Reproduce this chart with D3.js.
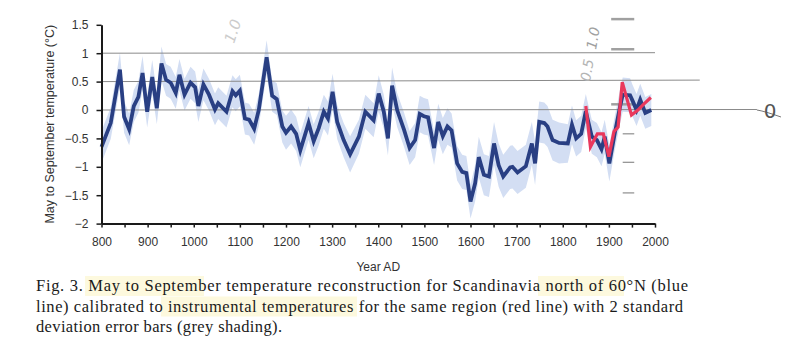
<!DOCTYPE html>
<html>
<head>
<meta charset="utf-8">
<script src="https://cdn.jsdelivr.net/npm/d3@7"></script>
<style>
  body { margin: 0; background: #fff; }
  svg { display: block; }
</style>
</head>
<body>
<svg id="chart" width="800" height="342"></svg>
<script>
// reconstruction (blue)
var blueYears = [800, 820, 840, 849, 860, 870, 880, 889, 899, 910, 920, 930, 940, 950, 961, 969, 980, 993,
  1003, 1010, 1021, 1033, 1046, 1053, 1071, 1084, 1091, 1100, 1111, 1120, 1131, 1141, 1158, 1170, 1180, 1192,
  1200, 1211, 1222, 1231, 1249, 1260, 1271, 1282, 1291, 1301, 1311, 1325, 1339, 1358, 1372, 1390,
  1401, 1412, 1421, 1430, 1441, 1456, 1468, 1480, 1490, 1499, 1508, 1521, 1530, 1540, 1550, 1559, 1571, 1582, 1591,
  1600, 1610, 1618, 1629, 1640, 1651, 1661, 1671, 1686, 1691, 1702, 1720, 1733, 1740, 1749, 1760, 1767, 1778, 1792,
  1811, 1820, 1829, 1840, 1850, 1863, 1874, 1884, 1891, 1901, 1913, 1924, 1930, 1946, 1951, 1960, 1968, 1979, 1992];
var blueTemps = [-0.65, -0.23, 0.71, -0.12, -0.34, 0.07, 0.23, 0.65, -0.03, 0.58, 0.03, 0.82, 0.53, 0.48, 0.30, 0.62, 0.27, 0.48,
  0.40, 0.07, 0.45, 0.27, 0.01, 0.12, -0.03, 0.33, 0.26, 0.34, -0.15, -0.17, -0.33, 0.0, 0.93, 0.25, 0.19, -0.29,
  -0.40, -0.29, -0.42, -0.71, -0.23, -0.55, -0.32, -0.03, -0.15, 0.32, -0.21, -0.53, -0.78, -0.47, -0.03, -0.18,
  0.29, -0.03, -0.50, 0.43, 0.0, -0.35, -0.67, -0.53, -0.07, -0.11, -0.13, -0.67, -0.21, -0.46, -0.29, -0.36, -0.94, -1.09, -1.11,
  -1.61, -1.29, -0.83, -1.14, -1.17, -0.59, -0.97, -1.17, -1.01, -1.0, -1.10, -0.99, -0.59, -0.94, -0.21, -0.23, -0.29, -0.53, -0.58,
  -0.59, -0.26, -0.50, -0.42, -0.02, -0.47, -0.53, -0.69, -0.47, -0.94, -0.40, 0.05, 0.27, 0.26, 0.17, 0.0, 0.18, -0.05, 0.0];
// 2 standard deviation half width of the shading
var blueErr = [0.28, 0.28, 0.3, 0.28, 0.28, 0.28, 0.28, 0.3, 0.28, 0.3, 0.28, 0.3, 0.28, 0.28, 0.28, 0.28, 0.28, 0.28,
  0.28, 0.28, 0.28, 0.28, 0.28, 0.28, 0.28, 0.28, 0.28, 0.28, 0.28, 0.28, 0.28, 0.28, 0.3, 0.28, 0.28, 0.28,
  0.3, 0.3, 0.3, 0.3, 0.3, 0.3, 0.3, 0.3, 0.3, 0.32, 0.3, 0.3, 0.32, 0.3, 0.3, 0.3,
  0.32, 0.3, 0.3, 0.32, 0.3, 0.3, 0.3, 0.3, 0.32, 0.32, 0.32, 0.3, 0.32, 0.32, 0.32, 0.3, 0.3, 0.3, 0.3,
  0.3, 0.32, 0.36, 0.36, 0.36, 0.38, 0.38, 0.38, 0.38, 0.38, 0.38, 0.38, 0.38, 0.38, 0.36, 0.36, 0.36, 0.36, 0.36,
  0.34, 0.34, 0.32, 0.32, 0.3, 0.3, 0.3, 0.3, 0.3, 0.32, 0.3, 0.3, 0.3, 0.3, 0.28, 0.28, 0.28, 0.28, 0.28];

// instrumental (red)
var redYears = [1850, 1860, 1875, 1888, 1900, 1911, 1920, 1929, 1949, 1963, 1975, 1991];
var redTemps = [0.07, -0.65, -0.42, -0.42, -0.82, -0.38, -0.30, 0.49, -0.09, 0.0, 0.10, 0.22];

var xTicks = [800, 900, 1000, 1100, 1200, 1300, 1400, 1500, 1600, 1700, 1800, 1900, 2000];
var xMinorTicks = [850, 950, 1050, 1150, 1250, 1350, 1450, 1550, 1650, 1750, 1850, 1950];
var yTicks = [-2, -1.5, -1, -0.5, 0, 0.5, 1, 1.5];

// pencil marks on the scan: guide lines (value, year where they stop)
var pencilLines = [{v: 1, to: 2000}, {v: 0.5, to: 2097}, {v: 0, to: 2221}];
var pencilDashes = [1.6, 1.07, 0.1, -0.42, -0.92, -1.46];

var captionLines = [
  'Fig. 3. May to September temperature reconstruction for Scandinavia north of 60°N (blue',
  'line) calibrated to instrumental temperatures for the same region (red line) with 2 standard',
  'deviation error bars (grey shading).'
];

var svg = d3.select('#chart');

var x = d3.scaleLinear().domain([800, 2000]).range([101.5, 655]),
    y = d3.scaleLinear().domain([-2, 1.5]).range([223.6, 24.8]);

var blue = blueYears.map(function(d, i) { return {year: d, t: blueTemps[i], e: blueErr[i]}; });
var red = redYears.map(function(d, i) { return {year: d, t: redTemps[i]}; });

// shading
svg.append('path')
  .datum(blue)
  .attr('fill', '#d3def3')
  .attr('d', d3.area()
    .x(function(d) { return x(d.year); })
    .y0(function(d) { return y(d.t - d.e); })
    .y1(function(d) { return y(d.t + d.e); }));

// pencil guide lines
svg.selectAll('line.pencil')
  .data(pencilLines)
  .enter()
  .append('line')
  .attr('class', 'pencil')
  .attr('x1', x(800))
  .attr('x2', function(d) { return x(d.to); })
  .attr('y1', function(d) { return y(d.v); })
  .attr('y2', function(d) { return y(d.v) - (d.v == 0.5 ? 1.5 : 0.5); })
  .attr('stroke', '#8a8a8a')
  .attr('stroke-width', 1);

svg.selectAll('line.dash')
  .data(pencilDashes)
  .enter()
  .append('line')
  .attr('class', 'dash')
  .attr('x1', function(d, i) { return i < 3 ? x(1905) : x(1930); })
  .attr('x2', x(1955))
  .attr('y1', function(d) { return y(d); })
  .attr('y2', function(d) { return y(d); })
  .attr('stroke', function(d, i) { return i < 3 ? '#a0a0a0' : '#777'; })
  .attr('stroke-width', function(d, i) { return i < 3 ? 2.5 : 1; });

// lines
var line = d3.line()
  .x(function(d) { return x(d.year); })
  .y(function(d) { return y(d.t); });

svg.append('path')
  .datum(blue)
  .attr('fill', 'none')
  .attr('stroke', '#293f83')
  .attr('stroke-width', 3.8)
  .attr('d', line);

svg.append('path')
  .datum(red)
  .attr('fill', 'none')
  .attr('stroke', '#e9385c')
  .attr('stroke-width', 3.2)
  .attr('d', line);

// axes
var yAxis = svg.append('g')
  .attr('transform', 'translate(' + x(800) + ',0)')
  .call(d3.axisLeft(y).tickValues(yTicks).tickSize(5).tickSizeOuter(0).tickFormat(d3.format('~g')));

var xAxis = svg.append('g')
  .attr('transform', 'translate(0,' + y(-2) + ')')
  .call(d3.axisBottom(x).tickValues(xTicks).tickSize(4).tickSizeOuter(0).tickPadding(10).tickFormat(d3.format('d')));

svg.append('g')
  .attr('transform', 'translate(0,' + y(-2) + ')')
  .call(d3.axisBottom(x).tickValues(xMinorTicks).tickSize(4).tickSizeOuter(0).tickFormat(''))
  .select('.domain').remove();

svg.selectAll('.domain').attr('stroke', '#1a1a1a').attr('stroke-width', 2);
svg.selectAll('.tick line').attr('stroke', '#1a1a1a').attr('stroke-width', 1.5);
svg.selectAll('.tick text')
  .attr('font-family', 'Liberation Sans, Arial, sans-serif')
  .attr('font-size', 12)
  .attr('fill', '#333');
yAxis.selectAll('.tick text').attr('x', -13);

svg.append('text')
  .attr('x', (x(800) + x(2000)) / 2)
  .attr('y', 271)
  .attr('text-anchor', 'middle')
  .attr('font-family', 'Liberation Sans, Arial, sans-serif')
  .attr('font-size', 12)
  .attr('fill', '#333')
  .text('Year AD');

svg.append('text')
  .attr('transform', 'translate(54,' + y(-0.25) + ') rotate(-90)')
  .attr('text-anchor', 'middle')
  .attr('font-family', 'Liberation Sans, Arial, sans-serif')
  .attr('font-size', 12.5)
  .attr('fill', '#333')
  .text('May to September temperature (°C)');

// handwriting on the scan
var hand = [
  {t: '1.0', x: 234, y: 44, r: -72, c: '#cccccc', s: 15},
  {t: '1.0', x: 596, y: 50, r: -80, c: '#a0a0a0', s: 14},
  {t: '0.5', x: 590, y: 82, r: -80, c: '#b4b4b4', s: 14}
];
svg.selectAll('text.hand')
  .data(hand)
  .enter()
  .append('text')
  .attr('class', 'hand')
  .attr('transform', function(d) { return 'translate(' + d.x + ',' + d.y + ') rotate(' + d.r + ')'; })
  .attr('font-family', 'DejaVu Sans, sans-serif')
  .attr('font-style', 'italic')
  .attr('font-size', function(d) { return d.s; })
  .attr('fill', function(d) { return d.c; })
  .text(function(d) { return d.t; });

svg.append('path')
  .attr('d', 'M' + x(2221) + ',' + y(0) + ' Q764,111 781,117')
  .attr('fill', 'none')
  .attr('stroke', '#777')
  .attr('stroke-width', 1);
svg.append('text')
  .attr('x', 770)
  .attr('y', 118)
  .attr('text-anchor', 'middle')
  .attr('font-family', 'DejaVu Sans, sans-serif')
  .attr('font-size', 20)
  .attr('fill', '#555')
  .text('0');

// caption with highlighter marks
var highlights = [
  {x0: 85, x1: 204, line: 0},
  {x0: 538, x1: 624, line: 0},
  {x0: 161, x1: 357, line: 1}
];
svg.selectAll('rect.hl')
  .data(highlights)
  .enter()
  .append('rect')
  .attr('class', 'hl')
  .attr('x', function(d) { return d.x0; })
  .attr('width', function(d) { return d.x1 - d.x0; })
  .attr('y', function(d) { return 276 + d.line * 20.5; })
  .attr('height', 20)
  .attr('fill', '#fdf9de');

var capWidths = [652, 647, 246];
svg.selectAll('text.cap')
  .data(captionLines)
  .enter()
  .append('text')
  .attr('class', 'cap')
  .attr('x', 36)
  .attr('y', function(d, i) { return 291 + i * 20.5; })
  .attr('font-family', 'Liberation Serif, Times New Roman, serif')
  .attr('font-size', 16.5)
  .attr('fill', '#1a1a1a')
  .attr('textLength', function(d, i) { return capWidths[i]; })
  .attr('lengthAdjust', 'spacing')
  .text(function(d) { return d; });
</script>
</body>
</html>
